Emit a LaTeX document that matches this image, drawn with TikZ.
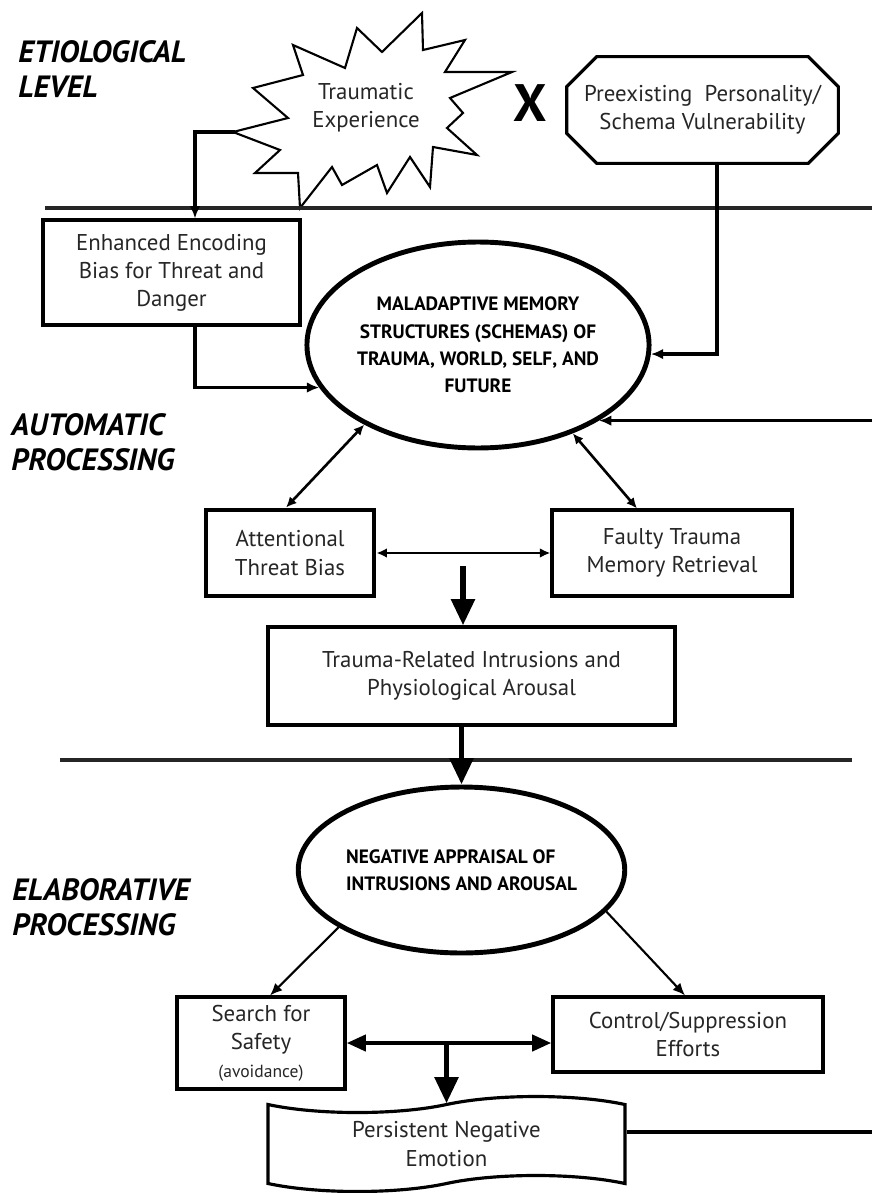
\documentclass[tikz,border=0pt]{standalone}
\usepackage{fontspec}
\setmainfont{PT Sans}
\usetikzlibrary{arrows.meta,shapes.geometric,shapes.symbols,calc}

\newcommand{\bodysize}{\fontsize{13pt}{16pt}\selectfont}
\newcommand{\ovalsize}{\fontsize{11pt}{15.6pt}\selectfont\bfseries}
\newcommand{\stagesize}{\fontsize{17.5pt}{19.8pt}\selectfont\bfseries\itshape}

\begin{document}
\begin{tikzpicture}[x=0.02cm, y=-0.02cm] % one unit = one pixel of the figure
	\tikzset{
		box/.style={draw, rectangle, line width=1.8pt, align=center, font=\bodysize, text=black!85, inner sep=0pt},
		oval/.style={draw, ellipse, line width=2.8pt, align=center, font=\ovalsize, inner sep=0pt},
		stage/.style={anchor=north west, align=left, font=\stagesize, inner sep=0pt},
		conn/.style={line width=1.9pt, -{Latex[length=7pt,width=6pt]}},
		slim/.style={line width=1.2pt, -{Latex[length=7pt,width=6pt]}},
		twoway/.style={line width=1.5pt, {Latex[length=6pt,width=5.5pt]}-{Latex[length=6pt,width=5.5pt]}},
		fat/.style={line width=3.4pt, -{Triangle[length=15pt,width=13pt]}},
		fatboth/.style={line width=2.6pt, {Triangle[length=11pt,width=9pt]}-{Triangle[length=11pt,width=9pt]}},
		divider/.style={line width=2.6pt, black!85}
	}
	
	\useasboundingbox (0,0) rectangle (872,1193);
	\coordinate (edgeR) at (872,0);
	
	% Level labels
	\node[stage] (etio) at (18,40) {ETIOLOGICAL\\LEVEL};
	\node[stage] (auto) at (11,413) {AUTOMATIC\\PROCESSING};
	\node[stage] (elab) at (12,878) {ELABORATIVE\\PROCESSING};
	
	% Traumatic experience (starburst)
	\draw[line width=1.2pt] (300,208) -- (298,173) -- (255,173) -- (280,150) -- (233,132) -- (288,118)
		-- (253,88) -- (303,75) -- (293,45) -- (345,68) -- (357,28) -- (382,52) -- (422,13)
		-- (423,50) -- (465,40) -- (445,72) -- (512,72) -- (450,98) -- (463,113) -- (447,128)
		-- (477,155) -- (433,147) -- (430,187) -- (410,157) -- (387,193) -- (377,165)
		-- (342,185) -- (332,167) -- cycle;
	\node[align=center, font=\bodysize, text=black!85] (burst) at (366,108) {Traumatic\\Experience};
	\coordinate (burstL) at (235,132);
	
	\node[font=\fontsize{30pt}{30pt}\selectfont\bfseries] (times) at (530,103) {X};
	
	% Vulnerability (cut corners)
	\node[minimum width=5.42cm, minimum height=2.12cm, align=center, font=\bodysize, text=black!85] (schema) at (702.5,110) {Preexisting\ \ Personality/\\Schema Vulnerability};
	\draw[line width=1.8pt] ($(schema.north west)+(30,0)$) -- ($(schema.north east)+(-30,0)$)
		-- ($(schema.north east)+(0,30)$) -- ($(schema.south east)+(0,-30)$)
		-- ($(schema.south east)+(-30,0)$) -- ($(schema.south west)+(30,0)$)
		-- ($(schema.south west)+(0,-30)$) -- ($(schema.north west)+(0,30)$) -- cycle;
	
	% Dividing lines
	\draw[divider] (45,208) -- (872,208);
	\draw[divider] (60,760) -- (852,760);
	
	% Automatic processing
	\node[box, minimum width=5.14cm, minimum height=2.1cm] (enc) at (171.5,272.5) {Enhanced Encoding\\Bias for Threat and\\Danger};
	\node[oval, minimum width=6.74cm, minimum height=4.12cm] (mal) at (478,345) {MALADAPTIVE MEMORY\\STRUCTURES (SCHEMAS) OF\\TRAUMA, WORLD, SELF, AND\\FUTURE};
	\node[box, line width=2.8pt, minimum width=3.36cm, minimum height=1.72cm] (att) at (290,553) {Attentional\\Threat Bias};
	\node[box, minimum width=4.8cm, minimum height=1.72cm] (faulty) at (672,553) {Faulty Trauma\\Memory Retrieval};
	\node[box, minimum width=8.14cm, minimum height=1.96cm] (intr) at (471.5,676) {Trauma-Related Intrusions and\\Physiological Arousal};
	
	% Elaborative processing
	\node[oval, align=left, minimum width=6.06cm, minimum height=3.32cm] (neg) at (461.5,870) {NEGATIVE APPRAISAL OF\\INTRUSIONS AND AROUSAL};
	\node[box, minimum width=3.36cm, minimum height=1.84cm] (search) at (261,1043) {Search for\\Safety\\{\fontsize{10pt}{12pt}\selectfont (avoidance)}};
	\node[box, minimum width=5.4cm, minimum height=1.5cm] (control) at (688,1034.5) {Control/Suppression\\Efforts};
	\node[box, tape, minimum width=7.14cm, minimum height=1.9cm, tape bend height=0.32cm] (emo) at (446.5,1144) {Persistent Negative\\Emotion};
	
	% Connectors
	\draw[conn] (burstL) -| ($(enc.north)+(23.5,0)$);
	\draw[conn] ($(enc.south)+(23.5,0)$) |- (mal.195);
	\draw[conn] ($(schema.south)+(14.5,0)$) |- (mal.-3);
	\draw[conn] (mal.-32 -| edgeR) -- (mal.-32);
	\draw[twoway] (mal.215) -- ($(att.north)+(-4,0)$);
	\draw[twoway] (mal.-43) -- ($(faulty.north)+(-35,0)$);
	\draw[twoway] (att.east) -- (faulty.west);
	\coordinate (midA) at (463,566);
	\draw[fat] (midA) -- (midA |- intr.north);
	\draw[fat] (neg.north |- intr.south) -- (neg.north);
	\draw[slim] (neg.205) -- ($(search.north)+(9,0)$);
	\draw[slim] (neg.-16) -- ($(control.north)+(-3,0)$);
	\draw[fatboth] (search.east) -- (search.east -| control.west);
	\coordinate (midB) at (search.east -| emo.north);
	\draw[fat] (midB) -- (emo.north);
	\coordinate (emoR) at ($(emo.east)+(0,-12)$);
	\draw[line width=1.8pt] (emoR) -- (emoR -| edgeR);
	
\end{tikzpicture}
\end{document}
